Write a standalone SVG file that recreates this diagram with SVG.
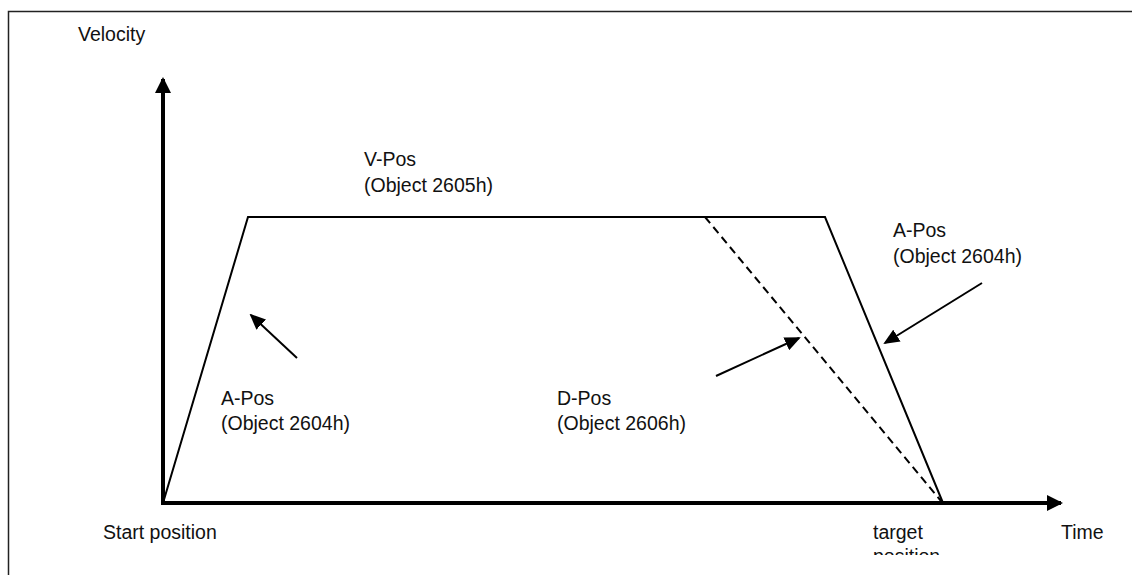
<svg xmlns="http://www.w3.org/2000/svg" width="1132" height="575" viewBox="0 0 1132 575">
<style>
  text { font-family: "Liberation Sans", Arial, sans-serif; font-size: 19.5px; fill: #111; }
  .axis { stroke: #000; stroke-width: 4; fill: none; }
  .curve { stroke: #000; stroke-width: 2; fill: none; }
  .dash { stroke: #000; stroke-width: 2; fill: none; stroke-dasharray: 8 5; }
  .ptr { stroke: #000; stroke-width: 2; fill: none; }
</style>
<defs>
  <marker id="axhead" markerUnits="userSpaceOnUse" markerWidth="16" markerHeight="16" refX="14" refY="8" orient="auto">
    <path d="M0,0 L16,8 L0,16 z" fill="#000"/>
  </marker>
  <marker id="head" markerUnits="userSpaceOnUse" markerWidth="16" markerHeight="14" refX="14" refY="7" orient="auto">
    <path d="M0,0 L16,7 L0,14 z" fill="#000"/>
  </marker>
  <clipPath id="clipTarget"><rect x="0" y="0" width="1132" height="555"/></clipPath>
</defs>
<rect x="0" y="0" width="1132" height="575" fill="#fff"/>
<rect id="frame" x="8.5" y="11.5" width="1140" height="580" fill="none" stroke="#222" stroke-width="1.5"/>

<g id="axes">
  <line class="axis" x1="163" y1="505" x2="163" y2="79" marker-end="url(#axhead)"/>
  <line class="axis" x1="161" y1="503" x2="1061" y2="503" marker-end="url(#axhead)"/>
</g>

<g id="profile">
  <polyline class="curve" points="163,503 248,217 825,217 943,503"/>
  <line class="dash" x1="705" y1="217" x2="941" y2="501"/>
</g>

<g id="connectors">
  <line class="ptr" x1="297" y1="358" x2="251" y2="315" marker-end="url(#head)"/>
  <line class="ptr" x1="716" y1="376" x2="799" y2="338" marker-end="url(#head)"/>
  <line class="ptr" x1="982" y1="283" x2="885" y2="343" marker-end="url(#head)"/>
</g>

<g id="label-velocity"><text x="78" y="41">Velocity</text></g>
<g id="label-vpos"><text x="364" y="166">V-Pos</text><text x="364" y="192">(Object 2605h)</text></g>
<g id="label-apos-right"><text x="893" y="237">A-Pos</text><text x="893" y="263">(Object 2604h)</text></g>
<g id="label-apos-left"><text x="221" y="405">A-Pos</text><text x="221" y="430">(Object 2604h)</text></g>
<g id="label-dpos"><text x="557" y="405">D-Pos</text><text x="557" y="430">(Object 2606h)</text></g>
<g id="label-start"><text x="103" y="539">Start position</text></g>
<g id="label-target" clip-path="url(#clipTarget)"><text x="873" y="539">target</text><text x="873" y="563">position</text></g>
<g id="label-time"><text x="1061" y="539">Time</text></g>
</svg>
